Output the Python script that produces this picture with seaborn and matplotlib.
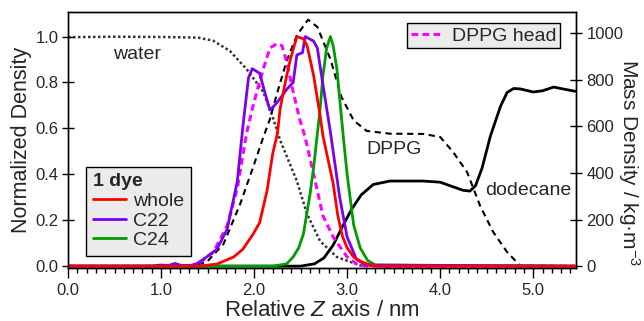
import numpy as np
import pandas as pd
import matplotlib
matplotlib.use('Agg')
import matplotlib.pyplot as plt
import seaborn as sns
from matplotlib.ticker import MultipleLocator, FormatStrFormatter

sns.set_theme(style='ticks')
plt.rcParams['font.family'] = ['Liberation Sans', 'DejaVu Sans']
plt.rcParams['mathtext.fontset'] = 'custom'
plt.rcParams['mathtext.rm'] = 'Liberation Sans'
plt.rcParams['mathtext.it'] = 'Liberation Sans:italic'

# ---------------- data ----------------
# Mass density curves (right axis, kg/m^3)
water_x = [0.0, 0.5, 1.0, 1.4, 1.56, 1.74, 1.92, 2.10, 2.20, 2.28, 2.46, 2.57, 2.71, 2.89, 3.14, 3.4, 5.45]
water_y = [982, 984, 983, 980, 967, 923, 845, 747, 640, 540, 365, 223, 107, 39, 3, 0, 0]

dppg_x = [0.0, 1.3, 1.49, 1.67, 1.85, 1.99, 2.10, 2.17, 2.25, 2.35, 2.46, 2.58, 2.68, 2.82, 2.94,
          3.07, 3.21, 3.46, 3.82, 4.0, 4.14, 4.29, 4.43, 4.57, 4.72, 4.86, 5.45]
dppg_y = [0, 0, 17, 94, 266, 425, 554, 630, 745, 880, 990, 1057, 1026, 888, 725,
          625, 580, 568, 567, 554, 489, 403, 258, 146, 60, 2, 0]

dodecane_x = [0.0, 2.5, 2.65, 2.75, 2.85, 2.95, 3.05, 3.15, 3.28, 3.46, 3.82, 4.0, 4.14, 4.25,
              4.32, 4.38, 4.45, 4.54, 4.65, 4.72, 4.79, 4.86, 5.0, 5.1, 5.22, 5.32, 5.45]
dodecane_y = [0, 0, 10, 35, 90, 170, 245, 305, 350, 365, 365, 360, 340, 325,
              322, 345, 420, 558, 687, 745, 762, 760, 747, 752, 768, 760, 750]

# Normalized density curves (left axis)
head_x = [0.0, 1.3, 1.42, 1.56, 1.71, 1.82, 1.92, 1.99, 2.05, 2.10, 2.17, 2.25, 2.30, 2.35, 2.42,
          2.49, 2.55, 2.64, 2.74, 2.85, 3.0, 3.1, 3.2, 5.45]
head_y = [0, 0, 0.017, 0.06, 0.175, 0.34, 0.58, 0.70, 0.79, 0.86, 0.95, 0.97, 0.96, 0.89, 0.76,
          0.64, 0.56, 0.40, 0.22, 0.127, 0.04, 0.01, 0, 0]

c22_x = [0.0, 0.9, 0.99, 1.08, 1.15, 1.22, 1.35, 1.42, 1.49, 1.6, 1.71, 1.82, 1.88, 1.94, 1.98,
         2.06, 2.12, 2.17, 2.22, 2.28, 2.35, 2.42, 2.46, 2.52, 2.55, 2.64, 2.68, 2.74, 2.82,
         2.85, 2.92, 3.0, 3.1, 3.2, 5.45]
c22_y = [0, 0, 0.005, 0.003, 0.012, 0.003, 0.003, 0.02, 0.04, 0.074, 0.16, 0.37, 0.61, 0.82, 0.86,
         0.84, 0.75, 0.68, 0.70, 0.73, 0.77, 0.80, 0.92, 0.93, 1.0, 0.98, 0.95, 0.79, 0.585,
         0.50, 0.30, 0.127, 0.03, 0.005, 0]

c24_x = [0.0, 2.2, 2.35, 2.42, 2.48, 2.53, 2.6, 2.64, 2.68, 2.71, 2.74, 2.78, 2.82, 2.85, 2.89,
         2.92, 2.96, 3.0, 3.07, 3.14, 3.22, 3.3, 5.45]
c24_y = [0, 0, 0.01, 0.04, 0.08, 0.14, 0.31, 0.43, 0.576, 0.686, 0.83, 0.95, 1.0, 0.96, 0.86,
         0.73, 0.56, 0.40, 0.18, 0.08, 0.025, 0.005, 0]

whole_x = [0.0, 1.4, 1.6, 1.78, 1.88, 1.99, 2.06, 2.14, 2.20, 2.25, 2.28, 2.35, 2.39, 2.46, 2.53,
           2.57, 2.64, 2.71, 2.74, 2.85, 2.90, 2.95, 3.0, 3.07, 3.15, 3.25, 3.35, 5.45]
whole_y = [0, 0, 0.009, 0.04, 0.074, 0.14, 0.19, 0.33, 0.49, 0.576, 0.686, 0.83, 0.90, 1.0, 0.99,
           0.96, 0.83, 0.655, 0.568, 0.36, 0.22, 0.13, 0.08, 0.04, 0.02, 0.005, 0, 0]

legend_labels = ['whole', 'C22', 'C24']
legend_title = '1 dye'

# ---------------- figure ----------------
fig = plt.figure(figsize=(6.44, 3.21), dpi=100)
ax = fig.add_axes([68 / 644, 1 - 268 / 321, 508 / 644, 256 / 321])
ax2 = ax.twinx()
ax.set_zorder(ax2.get_zorder() + 1)
ax.patch.set_visible(False)

# mass density (right axis)
sns.lineplot(x=water_x, y=water_y, ax=ax2, color='#333333', lw=1.8,
             linestyle=(0, (1, 1)), errorbar=None)
sns.lineplot(x=dppg_x, y=dppg_y, ax=ax2, color='black', lw=1.5,
             linestyle=(0, (3, 2.2)), errorbar=None)
sns.lineplot(x=dodecane_x, y=dodecane_y, ax=ax2, color='black', lw=2.0, errorbar=None)

# normalized density (left axis)
sns.lineplot(x=head_x, y=head_y, ax=ax, color='#ff00ff', lw=2.2,
             linestyle=(0, (2.2, 1.4)), errorbar=None)
l_mag = ax.lines[-1]
sns.lineplot(x=c24_x, y=c24_y, ax=ax, color='#009c00', lw=2.0, errorbar=None)
l_grn = ax.lines[-1]
sns.lineplot(x=c22_x, y=c22_y, ax=ax, color='#7a00ee', lw=2.0, errorbar=None)
l_pur = ax.lines[-1]
sns.lineplot(x=whole_x, y=whole_y, ax=ax, color='#ff0000', lw=2.0, errorbar=None)
l_red = ax.lines[-1]

ax.set_xlim(0, 5.46)
ax.set_ylim(-0.008, 1.107)
ax2.set_ylim(-8, 1090)

ax.xaxis.set_major_locator(MultipleLocator(1.0))
ax.xaxis.set_minor_locator(MultipleLocator(0.1))
ax.xaxis.set_major_formatter(FormatStrFormatter('%.1f'))
ax.yaxis.set_major_locator(MultipleLocator(0.2))
ax.yaxis.set_major_formatter(FormatStrFormatter('%.1f'))
ax2.set_yticks([0, 200, 400, 600, 800, 1000])

ax.tick_params(axis='x', which='major', direction='out', length=7, width=1,
               labelsize=12, pad=4, color='black', top=False)
ax.tick_params(axis='x', which='minor', direction='out', length=3.5, width=1,
               color='black', top=False)
ax.tick_params(axis='y', which='major', direction='inout', length=8, width=1,
               labelsize=12, pad=3, color='black', right=False)
ax2.tick_params(axis='y', which='major', direction='inout', length=9, width=1,
                labelsize=12, pad=3, color='black')

for a in (ax, ax2):
    for s in a.spines.values():
        s.set_color('black')
        s.set_linewidth(1.0)
        s.set_visible(True)

ax.set_xlabel('Relative $\\it{Z}$ axis / nm', fontsize=16, labelpad=1)
ax.set_ylabel('Normalized Density', fontsize=15.5)
ax.yaxis.set_label_coords(-0.092, 0.5)
ax.yaxis.label.set_va('center')
ax2.set_ylabel('Mass Density / kg·m$^{-3}$', fontsize=15, rotation=270)
ax2.yaxis.label.set_va('center')
ax2.yaxis.label.set_ha('center')
ax2.yaxis.set_label_coords(1.104, 0.41)

ax.text(0.74, 0.92, 'water', fontsize=14, ha='center', va='center')
ax.text(3.5, 0.51, 'DPPG', fontsize=14, ha='center', va='center')
ax.text(4.95, 0.33, 'dodecane', fontsize=14, ha='center', va='center')

leg1 = ax.legend(handles=[l_red, l_pur, l_grn], labels=legend_labels, title=legend_title,
                 loc='lower left', bbox_to_anchor=(0.035, 0.047), borderaxespad=0,
                 frameon=True, fancybox=False, edgecolor='black', facecolor='#ebebeb',
                 framealpha=1, fontsize=14, title_fontproperties={'weight': 'bold', 'size': 14},
                 alignment='left', handlelength=1.7, handletextpad=0.4, labelspacing=0.1,
                 borderpad=0.35)
leg1.get_frame().set_linewidth(1.0)
ax.add_artist(leg1)
leg2 = ax.legend(handles=[l_mag], labels=['DPPG head'], loc='upper right',
                 bbox_to_anchor=(0.969, 0.957), borderaxespad=0, frameon=True, fancybox=False,
                 edgecolor='black', facecolor='#ebebeb', framealpha=1, fontsize=14,
                 handlelength=1.7, handletextpad=0.4, borderpad=0.2)
leg2.get_frame().set_linewidth(1.0)

fig.savefig('out.png', dpi=100)
